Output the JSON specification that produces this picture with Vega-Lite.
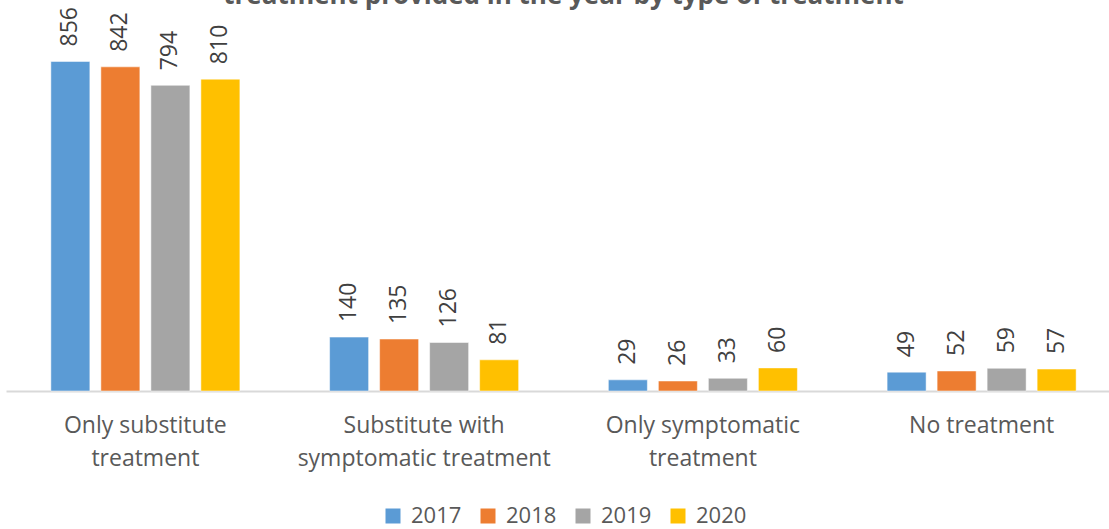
{
  "$schema": "https://vega.github.io/schema/vega-lite/v6.json",
  "width": 1115,
  "height": 385,
  "autosize": {"type": "none"},
  "padding": {"left": 6, "top": 6, "right": 0, "bottom": 138},
  "background": "white",
  "title": {
    "text": "treatment provided in the year by type of treatment",
    "font": "Open Sans",
    "fontWeight": "bold",
    "fontSize": 26,
    "color": "#595959",
    "anchor": "middle",
    "frame": "group",
    "baseline": "alphabetic",
    "offset": 0,
    "dy": 24
  },
  "data": {
    "values": [
      {"category": "Only substitute treatment", "year": "2017", "value": 856},
      {"category": "Only substitute treatment", "year": "2018", "value": 842},
      {"category": "Only substitute treatment", "year": "2019", "value": 794},
      {"category": "Only substitute treatment", "year": "2020", "value": 810},
      {"category": "Substitute with symptomatic treatment", "year": "2017", "value": 140},
      {"category": "Substitute with symptomatic treatment", "year": "2018", "value": 135},
      {"category": "Substitute with symptomatic treatment", "year": "2019", "value": 126},
      {"category": "Substitute with symptomatic treatment", "year": "2020", "value": 81},
      {"category": "Only symptomatic treatment", "year": "2017", "value": 29},
      {"category": "Only symptomatic treatment", "year": "2018", "value": 26},
      {"category": "Only symptomatic treatment", "year": "2019", "value": 33},
      {"category": "Only symptomatic treatment", "year": "2020", "value": 60},
      {"category": "No treatment", "year": "2017", "value": 49},
      {"category": "No treatment", "year": "2018", "value": 52},
      {"category": "No treatment", "year": "2019", "value": 59},
      {"category": "No treatment", "year": "2020", "value": 57}
    ]
  },
  "encoding": {
    "x": {
      "field": "category",
      "type": "nominal",
      "sort": ["Only substitute treatment", "Substitute with symptomatic treatment", "Only symptomatic treatment", "No treatment"],
      "scale": {"paddingInner": 0, "paddingOuter": 0},
      "axis": {
        "title": null,
        "labelAngle": 0,
        "ticks": false,
        "domainColor": "#d9d9d9",
        "domainWidth": 2,
        "labelFont": "Open Sans",
        "labelFontSize": 23,
        "labelColor": "#595959",
        "labelPadding": 23,
        "labelLineHeight": 33,
        "labelLimit": 0,
        "labelExpr": "datum.value == 'Only substitute treatment' ? ['Only substitute', 'treatment'] : datum.value == 'Substitute with symptomatic treatment' ? ['Substitute with', 'symptomatic treatment'] : datum.value == 'Only symptomatic treatment' ? ['Only symptomatic', 'treatment'] : datum.value"
      }
    },
    "xOffset": {
      "field": "year",
      "type": "nominal",
      "scale": {"paddingInner": 0.22, "paddingOuter": 0.897}
    },
    "y": {
      "field": "value",
      "type": "quantitative",
      "scale": {"domain": [0, 1000]},
      "axis": null
    }
  },
  "layer": [
    {
      "mark": {"type": "bar", "stroke": "white", "strokeWidth": 0.5},
      "encoding": {
        "color": {
          "field": "year",
          "type": "nominal",
          "scale": {"domain": ["2017", "2018", "2019", "2020"], "range": ["#5B9BD5", "#ED7D31", "#A5A5A5", "#FFC000"]},
          "legend": {
            "title": null,
            "orient": "none",
            "direction": "horizontal",
            "legendX": 376,
            "legendY": 499,
            "symbolType": "square",
            "symbolSize": 225,
            "symbolStrokeWidth": 0,
            "labelFont": "Open Sans",
            "labelFontSize": 22,
            "labelColor": "#595959",
            "labelOffset": 7,
            "columnPadding": 15
          }
        }
      }
    },
    {
      "mark": {
        "type": "text",
        "angle": 270,
        "align": "left",
        "baseline": "middle",
        "dx": 15,
        "font": "Open Sans",
        "fontSize": 23,
        "color": "#404040"
      },
      "encoding": {
        "text": {"field": "value", "type": "quantitative"}
      }
    }
  ],
  "config": {
    "view": {"stroke": null}
  }
}
